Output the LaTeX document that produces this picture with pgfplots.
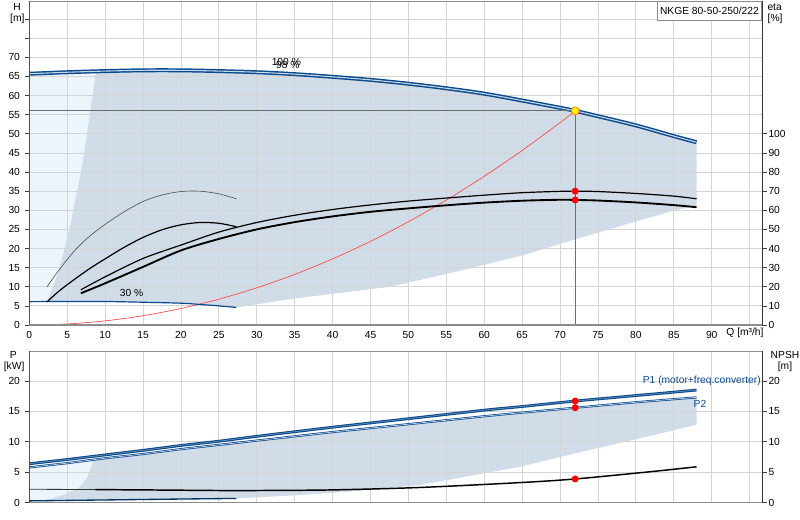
\documentclass[border=0pt]{standalone}
\usepackage{fontspec}
\setmainfont{Liberation Sans}
\usepackage{pgfplots}
\pgfplotsset{compat=1.18}

\definecolor{gblue}{RGB}{10,74,140}
\definecolor{ginner}{RGB}{200,216,236}
\definecolor{gshade}{RGB}{208,220,232}
\definecolor{glight}{RGB}{236,244,252}
\definecolor{ggrid}{RGB}{212,212,212}
\definecolor{gframe}{RGB}{140,140,140}
\definecolor{gop}{RGB}{110,110,110}
\definecolor{gsys}{RGB}{255,70,70}

\newcommand{\chartfont}{\fontsize{7.7}{9}\selectfont}

\pgfplotsset{
  pump/.style={
    scale only axis, width=549.5pt,
    xmin=0, xmax=96.63,
    anchor=south west,
    /pgf/number format/assume math mode=true,
    tick label style={font=\chartfont},
    every tick/.style={black!75, line width=0.5pt},
    tick align=outside, major tick length=3.5pt,
  },
  toppanel/.style={pump, at={(21.98pt,146.25pt)}, height=243pt, ymin=0, ymax=84.73},
  botpanel/.style={pump, at={(21.98pt,12.98pt)}, height=113.8pt, ymin=0, ymax=24.93},
  framed/.style={
    axis line style={gframe, line width=0.6pt},
    grid=major, grid style={ggrid, line width=0.6pt},
    xtick={0,5,...,95}, xtick pos=bottom, xtick style={draw=none},
    ytick pos=left,
  },
  rightaxis/.style={
    axis x line=none, axis y line*=right,
    y axis line style={black!80, line width=0.6pt},
    yticklabel style={inner sep=1.2pt},
  },
}

\begin{document}
\begin{tikzpicture}[font=\chartfont]
\path[use as bounding box] (0,0) rectangle (600pt,390pt);

% ---------- upper panel: H and eta ----------
\begin{axis}[toppanel, hide axis]
  % extended range (light)
  \addplot[draw=none, fill=glight] coordinates {
    (0,6.1) (0,65.7) (5,66.1) (8.8,66.35) (7.1,43) (5.3,25) (3.8,13.5) (2.3,6.05)
  } -- cycle;
  % operating range
  \addplot[draw=none, fill=gshade] coordinates {
    (8.8,66.35) (10,66.4) (15,66.6) (20,66.6) (25,66.4) (30,66.1) (35,65.6)
    (40,64.9) (45,64.1) (50,63.1) (55,61.9) (60,60.5) (65,58.7) (70,56.8)
    (72,56.0) (75,54.6) (80,52.2) (85,49.4) (88,47.8)
    (88,31.2) (85.4,30.1) (79.2,26.6) (72,22.4) (65.2,18.3) (57.3,14.4)
    (47.6,10.0) (35.3,7.0) (27.3,4.6) (25,5.0) (23,5.3) (20,5.7) (15,5.95)
    (10,6.15) (5,6.15) (2.3,6.05) (3.8,13.5) (5.3,25) (7.1,43)
  } -- cycle;
\end{axis}

\begin{axis}[toppanel, framed,
    xticklabels={0,5,10,15,20,25,30,35,40,45,50,55,60,65,70,75,80,85,90,{}},
    xticklabel style={yshift=2.5pt},
    ytick={0,5,...,80},
    yticklabels={0,5,10,15,20,25,30,35,40,45,50,55,60,65,70,{},{}},
  ]
  % system curve
  \addplot[gsys, line width=0.5pt, smooth] coordinates {
    (0,0) (5,0.27) (10,1.08) (15,2.43) (20,4.32) (25,6.75) (30,9.72)
    (35,13.23) (40,17.28) (45,21.88) (50,27.0) (55,32.68) (60,38.89)
    (65,45.64) (70,52.93) (72,56.0)
  };
  % 30 % speed
  \addplot[gblue, line width=0.9pt, smooth] coordinates {
    (0,6.1) (5,6.15) (10,6.15) (15,5.95) (20,5.7) (23,5.3) (25,5.0) (27.3,4.6)
  };
  % max curve (100 % / 98 %)
  \addplot[gblue, line width=1.1pt, double=ginner, double distance=0.8pt, smooth] coordinates {
    (0,65.7) (5,66.1) (10,66.4) (15,66.6) (20,66.6) (25,66.4) (30,66.1)
    (35,65.6) (40,64.9) (45,64.1) (50,63.1) (55,61.9) (60,60.5) (65,58.7)
    (70,56.8) (72,56.0) (75,54.6) (80,52.2) (85,49.4) (88,47.8)
  };
  % duty point lines
  \addplot[gop, line width=0.6pt] coordinates {(0,56) (72,56)};
  \addplot[gop, line width=0.6pt] coordinates {(72,56) (72,0)};
  \addplot[only marks, mark=*, mark size=3pt,
    mark options={fill=yellow, draw=orange, line width=0.6pt}] coordinates {(72,56)};

  \node at (axis cs:33.9,68.8) {100 \%};
  \node at (axis cs:34.1,68.0) {98 \%};
  \node at (axis cs:13.5,8.5) {30 \%};
  \node[draw=gframe, fill=white, anchor=north east, inner xsep=2.2pt,
        minimum height=14.2pt] at (rel axis cs:1,1) {NKGE 80-50-250/222};

  \draw[black!80, line width=0.6pt] (rel axis cs:0,0) -- (rel axis cs:0,1);
  \draw[gframe, line width=1.3pt] (rel axis cs:0,0) -- (rel axis cs:1,0);
\end{axis}

\begin{axis}[toppanel, rightaxis, ymin=0, ymax=169.46, ytick={0,10,...,100}]
  \addplot[black!70, line width=0.45pt, smooth] coordinates {
    (2.3,19.8) (4,29.2) (6,39.0) (8,46.6) (10,52.6) (12.5,59.2) (15,64.6)
    (17.5,68.0) (20,69.8) (22.5,70.0) (25,68.6) (27.3,66.0)
  };
  \addplot[black, line width=0.9pt, smooth] coordinates {
    (2.3,12.0) (4,18.0) (6,24.0) (8,29.6) (10,34.6) (12.5,40.6) (15,45.8)
    (17.5,49.8) (20,52.4) (22.5,53.6) (25,53.2) (27.3,51.4)
  };
  \addplot[black, line width=0.9pt, smooth] coordinates {
    (6.8,18.4) (10,25.2) (15,34.8) (20,41.8) (25,48.6) (30,53.6) (35,57.4)
    (40,60.4) (45,62.8) (50,64.8) (55,66.4) (60,67.9) (65,69.2) (70,69.9)
    (72,70.0) (75,69.8) (80,68.8) (85,67.4) (88,66.0)
  };
  \addplot[black, line width=1.4pt, smooth] coordinates {
    (6.8,16.6) (10,21.8) (15,30.4) (20,39.0) (25,45.0) (30,50.0) (35,53.8)
    (40,56.8) (45,59.2) (50,61.0) (55,62.6) (60,64.0) (65,65.0) (70,65.5)
    (72,65.4) (75,65.1) (80,64.1) (85,62.7) (88,61.6)
  };
  \addplot[only marks, mark=*, mark size=2.4pt, red] coordinates {(72,70.0) (72,65.4)};
\end{axis}

% ---------- lower panel: P and NPSH ----------
\begin{axis}[botpanel, hide axis]
  \addplot[draw=none, fill=glight] coordinates {
    (0,0) (0,5.8) (5,6.5) (8.5,7.05) (7.6,4.0) (6.5,2.4) (4.5,1.3) (2.5,0.5) (1.4,0.2) (1.0,0)
  } -- cycle;
  \addplot[draw=none, fill=gshade] coordinates {
    (8.5,7.05) (10,7.3) (15,8.0) (20,8.8) (25,9.5) (30,10.2) (40,11.6)
    (50,12.9) (60,14.2) (65,14.8) (72,15.6) (80,16.5) (88,17.3)
    (88,12.8) (82.3,11.1) (72,8.1) (64.7,5.9) (51.5,2.9) (43,1.9) (35,1.2)
    (27.3,0.7) (20,0.6) (10,0.45) (1.4,0.2) (2.5,0.5) (4.5,1.3) (6.5,2.4) (7.6,4.0)
  } -- cycle;
\end{axis}

\begin{axis}[botpanel, framed, xticklabels={}, ytick={0,5,...,20}]
  % P2
  \addplot[gblue, line width=0.55pt, double=ginner, double distance=0.5pt, smooth] coordinates {
    (0,5.8) (5,6.5) (10,7.3) (15,8.0) (20,8.8) (25,9.5) (30,10.2) (40,11.6)
    (50,12.9) (60,14.2) (65,14.8) (72,15.6) (80,16.5) (88,17.3)
  };
  % P1
  \addplot[gblue, line width=0.85pt, double=gblue!55!white, double distance=0.4pt, smooth] coordinates {
    (0,6.4) (5,7.1) (10,7.85) (15,8.6) (20,9.4) (25,10.1) (30,10.9) (40,12.4)
    (50,13.8) (60,15.2) (65,15.8) (72,16.7) (80,17.6) (88,18.5)
  };
  % 30 % speed
  \addplot[gblue!70!black, line width=1pt, smooth] coordinates {
    (0,0.3) (10,0.45) (20,0.6) (27.3,0.7)
  };
  \addplot[only marks, mark=*, mark size=2.4pt, red] coordinates {(72,16.7) (72,15.6)};
  \node[anchor=west, text=gblue] at (axis cs:80.3,20.0) {P1 (motor+freq.converter)};
  \node[anchor=west, text=gblue] at (axis cs:87.0,16.3) {P2};

  \draw[black!80, line width=0.6pt] (rel axis cs:0,0) -- (rel axis cs:0,1);
  \draw[gframe, line width=1.3pt] (rel axis cs:0,0) -- (rel axis cs:1,0);
\end{axis}

\begin{axis}[botpanel, rightaxis, ymin=0, ymax=24.93, ytick={0,5,...,20}]
  \addplot[black!80, line width=0.6pt, smooth] coordinates {
    (0,2.2) (5,2.18) (8.7,2.15)
  };
  \addplot[black, line width=1.1pt, smooth] coordinates {
    (8.7,2.15) (15,2.1) (20,2.05) (25,2.0) (30,2.0) (40,2.1) (51.5,2.5)
    (64.7,3.3) (72,3.9) (82,5.1) (88,5.9)
  };
  \addplot[only marks, mark=*, mark size=2.4pt, red] coordinates {(72,3.9)};
\end{axis}

% axis titles
\node at (12.75pt,384.75pt) {H};
\node at (13pt,375.75pt) {[m]};
\node at (581pt,384.75pt) {eta};
\node at (581.3pt,375.75pt) {[\%]};
\node[anchor=west] at (541.3pt,140.25pt) {Q [m³/h]};
\node at (10pt,123.75pt) {P};
\node at (10.6pt,114.75pt) {[kW]};
\node at (588.75pt,123.75pt) {NPSH};
\node at (588.75pt,114.75pt) {[m]};
\end{tikzpicture}
\end{document}
